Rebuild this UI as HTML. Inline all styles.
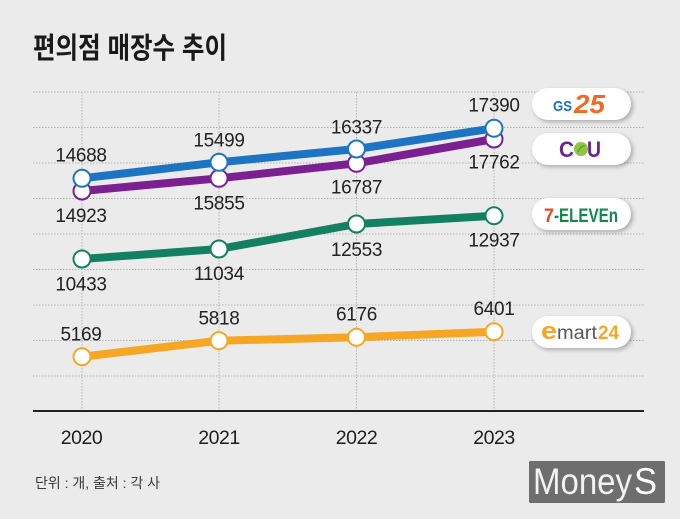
<!DOCTYPE html>
<html><head><meta charset="utf-8">
<style>
html,body{margin:0;padding:0;background:#ebebeb;}
body{width:680px;height:519px;position:relative;overflow:hidden;}
.pill{position:absolute;left:532px;width:99px;height:32px;border-radius:16px;background:#fff;box-shadow:2px 2px 5px rgba(0,0,0,0.28);}
</style></head>
<body>
<svg width="680" height="519" viewBox="0 0 680 519" xmlns="http://www.w3.org/2000/svg" style="position:absolute;left:0;top:0">
<rect width="680" height="519" fill="#ebebeb"/>
<text x="33" y="58" font-family="'Liberation Sans','Noto Sans CJK KR',sans-serif" font-weight="bold" font-size="29" fill="#1a1a1a" textLength="194" lengthAdjust="spacingAndGlyphs">편의점 매장수 추이</text>
<g stroke="#b3b3b3" stroke-width="1" stroke-dasharray="1.5 1.5">
<line x1="33" y1="92" x2="644" y2="92"/>
<line x1="33" y1="127.5" x2="644" y2="127.5"/>
<line x1="33" y1="163" x2="644" y2="163"/>
<line x1="33" y1="198.5" x2="644" y2="198.5"/>
<line x1="33" y1="234" x2="644" y2="234"/>
<line x1="33" y1="269.5" x2="644" y2="269.5"/>
<line x1="33" y1="305" x2="644" y2="305"/>
<line x1="33" y1="340.5" x2="644" y2="340.5"/>
<line x1="33" y1="376" x2="644" y2="376"/>
<line x1="82" y1="92" x2="82" y2="411"/>
<line x1="219" y1="92" x2="219" y2="411"/>
<line x1="356.5" y1="92" x2="356.5" y2="411"/>
<line x1="494" y1="92" x2="494" y2="411"/>
</g>
<line x1="33" y1="411" x2="644" y2="411" stroke="#222" stroke-width="2"/>
<g fill="none" stroke-width="8" stroke-linejoin="round" stroke-linecap="round">
<polyline points="82,356.7 219,340.7 356.5,337.3 494,331.7" stroke="#f5a623"/>
<polyline points="82,259 219,249 356.5,224 494,215.7" stroke="#138062"/>
<polyline points="82,191 219,178.3 356.5,163.3 494,139" stroke="#7a2090"/>
<polyline points="82,178.3 219,162.3 356.5,149 494,128.3" stroke="#1c74c2"/>
</g>
<g fill="#fff" stroke-width="2">
<g stroke="#f5a623"><circle cx="82" cy="356.7" r="8.5"/><circle cx="219" cy="340.7" r="8.5"/><circle cx="356.5" cy="337.3" r="8.5"/><circle cx="494" cy="331.7" r="8.5"/></g>
<g stroke="#138062"><circle cx="82" cy="259" r="8.5"/><circle cx="219" cy="249" r="8.5"/><circle cx="356.5" cy="224" r="8.5"/><circle cx="494" cy="215.7" r="8.5"/></g>
<g stroke="#7a2090"><circle cx="82" cy="191" r="8.5"/><circle cx="219" cy="178.3" r="8.5"/><circle cx="356.5" cy="163.3" r="8.5"/><circle cx="494" cy="139" r="8.5"/></g>
<g stroke="#1c74c2"><circle cx="82" cy="178.3" r="8.5"/><circle cx="219" cy="162.3" r="8.5"/><circle cx="356.5" cy="149" r="8.5"/><circle cx="494" cy="128.3" r="8.5"/></g>
</g>
<g font-family="'Liberation Sans',sans-serif" font-size="19" fill="#222" text-anchor="middle" letter-spacing="-0.3">
<text x="81" y="161.7">14688</text>
<text x="81" y="222">14923</text>
<text x="81" y="290.7">10433</text>
<text x="81" y="340.7">5169</text>
<text x="219" y="146.7">15499</text>
<text x="219" y="209.3">15855</text>
<text x="219" y="280">11034</text>
<text x="219" y="324.3">5818</text>
<text x="356.5" y="133.3">16337</text>
<text x="356.5" y="193.3">16787</text>
<text x="356.5" y="256">12553</text>
<text x="356.5" y="320.7">6176</text>
<text x="494" y="111.7">17390</text>
<text x="494" y="168.3">17762</text>
<text x="494" y="246.7">12937</text>
<text x="494" y="315">6401</text>
</g>
<g font-family="'Liberation Sans',sans-serif" font-size="19.5" fill="#1e1e1e" text-anchor="middle" letter-spacing="-0.5">
<text x="81.5" y="444">2020</text>
<text x="219" y="444">2021</text>
<text x="356.5" y="444">2022</text>
<text x="494" y="444">2023</text>
</g>
<text x="35" y="488" font-family="'Liberation Sans','Noto Sans CJK KR',sans-serif" font-size="14" fill="#3a3a3a" textLength="125" lengthAdjust="spacingAndGlyphs">단위 : 개, 출처 : 각 사</text>
<rect x="529" y="461" width="136" height="42" rx="1.5" fill="#6e6e6e"/>
<text x="533" y="494" font-family="'Liberation Sans',sans-serif" font-size="37" fill="#f2f2f2" textLength="99" lengthAdjust="spacingAndGlyphs">Money</text>
<text x="634" y="494" font-family="'Liberation Sans',sans-serif" font-size="37" fill="#ffffff" textLength="23" lengthAdjust="spacingAndGlyphs">S</text>
</svg>
<div class="pill" style="top:88px"></div>
<div class="pill" style="top:133px"></div>
<div class="pill" style="top:198px"></div>
<div class="pill" style="top:316px"></div>
<svg width="680" height="519" viewBox="0 0 680 519" xmlns="http://www.w3.org/2000/svg" style="position:absolute;left:0;top:0">
<text x="553" y="111" font-family="'Liberation Sans',sans-serif" font-weight="bold" font-size="15" fill="#1a73c0" textLength="19" lengthAdjust="spacingAndGlyphs">GS</text>
<text x="574" y="113" font-family="'Liberation Sans',sans-serif" font-weight="bold" font-style="italic" font-size="26" fill="#f26a21" textLength="31" lengthAdjust="spacingAndGlyphs">25</text>
<text x="559" y="157" font-family="'Liberation Sans',sans-serif" font-weight="bold" font-size="22" fill="#6e2490" textLength="15" lengthAdjust="spacingAndGlyphs">C</text>
<circle cx="581" cy="149" r="7" fill="#8dc63f"/>
<path d="M578 152 q3 -7 7 -6" stroke="#5a8a2a" stroke-width="1" fill="none"/>
<text x="587" y="157" font-family="'Liberation Sans',sans-serif" font-weight="bold" font-size="22" fill="#6e2490" textLength="14" lengthAdjust="spacingAndGlyphs">U</text>
<text x="544" y="222" font-family="'Liberation Sans',sans-serif" font-weight="bold" font-size="19" fill="#e8472a" textLength="10" lengthAdjust="spacingAndGlyphs">7</text>
<text x="554" y="222" font-family="'Liberation Sans',sans-serif" font-weight="bold" font-size="19" fill="#0e8a4a" textLength="64" lengthAdjust="spacingAndGlyphs">-ELEVEn</text>
<text x="541" y="339" font-family="'Liberation Sans',sans-serif" font-weight="bold" font-size="24" fill="#f5a623" textLength="16" lengthAdjust="spacingAndGlyphs">e</text>
<text x="557" y="339" font-family="'Liberation Sans',sans-serif" font-size="19" fill="#55585c" textLength="40" lengthAdjust="spacingAndGlyphs">mart</text>
<text x="598" y="339" font-family="'Liberation Sans',sans-serif" font-weight="bold" font-size="19" fill="#f5a623" textLength="21" lengthAdjust="spacingAndGlyphs">24</text>
</svg>
</body></html>
